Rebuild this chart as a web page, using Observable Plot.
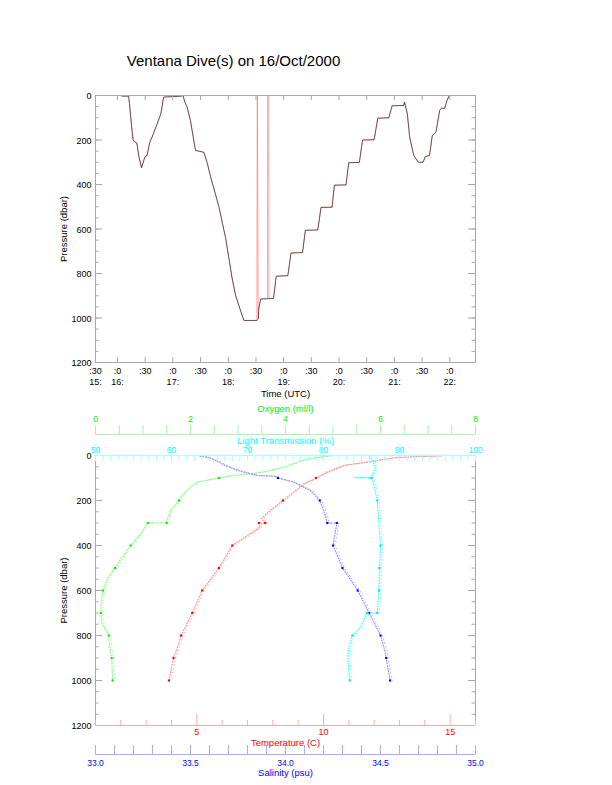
<!DOCTYPE html>
<html><head><meta charset="utf-8">
<script src="https://cdn.jsdelivr.net/npm/d3@7"></script>
<script src="https://cdn.jsdelivr.net/npm/@observablehq/plot@0.6"></script>
<style>
body{margin:0;background:#fff;}
#wrap{position:relative;width:612px;height:785px;font-family:"Liberation Sans",Arial,Helvetica,sans-serif;overflow:hidden;}
#top{position:absolute;left:0;top:0;}
#bot{position:absolute;left:0;top:400px;}
#title{position:absolute;left:0;top:52px;width:467px;text-align:center;font-size:15px;color:#000;}
svg{overflow:visible;}
</style></head><body>
<div id="wrap"><div id="top"></div><div id="bot"></div><div id="title">Ventana Dive(s) on 16/Oct/2000</div></div>
<script>
// ---------- Top panel data: dive pressure vs time ----------
const diveTime = ["16:05","16:12","16:13","16:15","16:17","16:21","16:23","16:26","16:28:30","16:29:30","16:32","16:35","16:37:30","16:43","16:47","16:50","17:09","17:11","17:13","17:15:30","17:19","17:24:30","17:33:30","17:37","17:41","17:46","17:50","17:55","17:57","18:00:30","18:04","18:08","18:13","18:17","18:31","18:32:30","18:33","18:35","18:49","18:52","19:04:30","19:08","19:20:30","19:23:30","19:37","19:40:30","19:52:30","19:55","20:07:30","20:10:30","20:22","20:25:30","20:38","20:42","20:54","20:57:30","21:10","21:11","21:14","21:16:30","21:21","21:26","21:31","21:33:30","21:38","21:41","21:45","21:49","21:51","21:54:30","21:57","21:59:30"];
const divePressure = [3,3,37,127,202,214,270,325,292,277,270,210,187,127,82,7,3,0,30,52,112,247,255,300,367,442,502,600,637,727,817,899,963,1011,1011,1004,959,915,912,812,810,708,706,606,604,503,502,403,402,302,301,200,199,102,100,46,45,30,82,187,270,300,300,274,270,180,165,67,57,57,22,0];
// spikes present in the red trace only
const spikeTime = ["18:31:25","18:31:35","18:42:30","18:42:40","18:43:50","18:44:00"];
const spikePressure = [0,0,913,0,0,913];
// axis
const timeStart = "15:36:11", timeEnd = "22:27:50";
const timeTickTimes = ["16:00","16:30","17:00","17:30","18:00","18:30","19:00","19:30","20:00","20:30","21:00","21:30","22:00"];
const timeLabelTop = [":30",":0",":30",":0",":30",":0",":30",":0",":30",":0",":30",":0",":30",":0"];
const timeLabelBottom = ["15:","16:","","17:","","18:","","19:","","20:","","21:","","22:"];
const pressureTicks = [0,200,400,600,800,1000,1200];
const pressureMinor = d3.range(0,1201,50);

// ---------- Bottom panel data: profiles vs pressure ----------
const oxyP = [3,10,25,50,75,93,100,118,150,185,200,244,290,300,300,348,400,452,500,547,600,650,700,750,800,822,900,950,1000];
const oxyV = [4.9,4.6,4.3,4.0,3.5,2.75,2.6,2.14,1.95,1.79,1.76,1.58,1.5,1.5,1.1,0.95,0.74,0.56,0.41,0.25,0.16,0.12,0.11,0.14,0.28,0.28,0.34,0.35,0.36];
const tempP = [2,5,10,20,25,44,74,100,126,185,200,244,281,300,300,318,400,500,600,700,800,859,900,1000];
const tempV = [14.6,13.6,12.8,12.2,12.0,10.8,10.15,9.7,9.22,8.57,8.4,7.9,7.55,7.7,7.45,7.5,6.4,5.87,5.21,4.82,4.38,4.22,4.08,3.9];
const salP = [3,10,30,44,67,89,92,100,118,155,200,267,300,300,400,500,600,700,800,859,900,1000];
const salV = [33.55,33.6,33.65,33.68,33.75,33.85,33.95,33.96,34.04,34.13,34.18,34.21,34.22,34.27,34.25,34.30,34.38,34.44,34.50,34.52,34.53,34.55];
const ltP = [5,22,52,74,98,98,100,126,200,304,400,500,600,700,700,763,800,859,907,1000];
const ltV = [86.0,86.4,86.84,86.6,86.2,84.0,86.3,86.6,87.07,87.3,87.5,87.37,87.3,87.07,85.7,84.87,83.8,83.3,83.2,83.46];

const oxyDomain = [0,8], oxyLabels = [0,2,4,6,8];
const ltDomain = [50,100], ltLabels = [50,60,70,80,90,100];
const tempDomain = [1,16], tempLabels = [5,10,15];
const salDomain = [33,35], salLabels = ["33.0","33.5","34.0","34.5","35.0"];

// ---------- helpers ----------
const hm = s => { const [h,m,sec=0] = s.split(":").map(Number); return h + m/60 + sec/3600; };
const gray = "#a8a8a8";
const font = "'Liberation Sans', Arial, Helvetica, sans-serif";

// ================= TOP PANEL =================
{
  const xDom = [hm(timeStart), hm(timeEnd)];
  const kx = (xDom[1]-xDom[0])/380, ky = 1200/267;
  const dive = diveTime.map((t,i)=>({t:hm(t), p:divePressure[i]}));
  const red = dive.concat(spikeTime.map((t,i)=>({t:hm(t), p:spikePressure[i]}))).sort((a,b)=>a.t-b.t);
  const ticks = timeTickTimes.map(hm);
  const labPos = [xDom[0], ...ticks];
  const labs = labPos.map((x,i)=>({x, a:timeLabelTop[i], b:timeLabelBottom[i]}));
  const chart = Plot.plot({
    width:612, height:400, marginLeft:95, marginRight:137, marginTop:95, marginBottom:38,
    style:{fontFamily:font, fontSize:"9px", background:"transparent", overflow:"visible"},
    x:{domain:xDom, axis:null}, y:{domain:[0,1200], reverse:true, axis:null},
    marks:[
      Plot.line(red, {x:"t", y:"p", stroke:"#ff5a5a", strokeWidth:0.9, strokeOpacity:0.6}),
      Plot.line(dive, {x:"t", y:"p", stroke:"#000", strokeWidth:0.55}),
      Plot.frame({stroke:gray}),
      Plot.ruleY(pressureMinor, {y:d=>d, x1:xDom[0], x2:xDom[0]+3.5*kx, stroke:gray}),
      Plot.ruleY(pressureTicks, {y:d=>d, x1:xDom[0], x2:xDom[0]+7*kx, stroke:gray}),
      Plot.ruleY(pressureMinor, {y:d=>d, x1:xDom[1]-3.5*kx, x2:xDom[1], stroke:gray}),
      Plot.ruleY(pressureTicks, {y:d=>d, x1:xDom[1]-7*kx, x2:xDom[1], stroke:gray}),
      Plot.ruleX(ticks, {x:d=>d, y1:1200, y2:1200-5*ky, stroke:gray}),
      Plot.ruleX(ticks, {x:d=>d, y1:0, y2:5*ky, stroke:gray}),
      Plot.text(pressureTicks, {x:xDom[0], y:d=>d, text:d=>String(d), textAnchor:"end", dx:-4, dy:1, fill:"#000", fontSize:9}),
      Plot.text(labs, {x:"x", y:1200, text:"a", dy:9, fill:"#000", fontSize:9}),
      Plot.text(labs, {x:"x", y:1200, text:"b", dy:20, fill:"#000", fontSize:9}),
      Plot.text(["Time (UTC)"], {x:(xDom[0]+xDom[1])/2, y:1200, text:d=>d, dy:31, fill:"#000", fontSize:9.5}),
      Plot.text(["Pressure (dbar)"], {x:xDom[0], y:600, text:d=>d, dx:-32, rotate:-90, fill:"#000", fontSize:9.5})
    ]
  });
  document.getElementById("top").appendChild(chart);
}

// ================= BOTTOM PANEL =================
{
  const xDom = tempDomain;
  const kx = (xDom[1]-xDom[0])/380, ky = 1200/270;
  const lin = (dom) => v => xDom[0] + (v - dom[0]) / (dom[1]-dom[0]) * (xDom[1]-xDom[0]);
  const fO = lin(oxyDomain), fL = lin(ltDomain), fT = v => v, fS = lin(salDomain);
  const prof = (P, V) => P.map((p,i)=>({p, v:V[i]}));
  const oxy = prof(oxyP, oxyV), tmp = prof(tempP, tempV), sal = prof(salP, salV), lt = prof(ltP, ltV);
  const stops = a => a.filter(d => d.p % 100 === 0 && d.p > 0);
  const cO = "#00ee00", cL = "#00ffff", cT = "#ff0000", cS = "#0000ff";
  const lO = "#a8f5a8", lL = "#a8ffff", lT = "#ffaaaa", lS = "#aaaaff";
  const profMarks = (data, f, pale, strong) => [
    Plot.line(data, {x:d=>f(d.v), y:"p", stroke:pale, strokeWidth:1.2, strokeDasharray:"0.8 1.8"}),
    Plot.line(data, {x:d=>f(d.v)+2*kx, y:"p", stroke:pale, strokeWidth:0.9, strokeDasharray:"0.8 3", strokeOpacity:0.8}),
    Plot.dot(stops(data), {x:d=>f(d.v), y:"p", r:1.2, symbol:"square", fill:strong, stroke:null})
  ];
  const oTicks = d3.range(0,8.01,0.5), lTicks = d3.range(50,100.01,1), tTicks = d3.range(1,16.01,1), sTicks = d3.range(33,35.001,0.1);
  const yO = -21*ky, yS = 1200+29*ky;
  const chart = Plot.plot({
    width:612, height:385, marginLeft:95, marginRight:137, marginTop:55, marginBottom:60,
    style:{fontFamily:font, fontSize:"9px", background:"transparent", overflow:"visible"},
    x:{domain:xDom, axis:null}, y:{domain:[0,1200], reverse:true, axis:null},
    marks:[
      ...profMarks(oxy, fO, "#80ff80", cO),
      ...profMarks(tmp, fT, "#ff9090", cT),
      ...profMarks(sal, fS, "#9090ff", cS),
      ...profMarks(lt, fL, "#40ffff", "#00e5e5"),
      // frame sides
      Plot.ruleX(xDom, {stroke:gray}),
      Plot.ruleY(pressureMinor, {y:d=>d, x1:xDom[0], x2:xDom[0]+3.5*kx, stroke:gray}),
      Plot.ruleY(pressureTicks, {y:d=>d, x1:xDom[0], x2:xDom[0]+7*kx, stroke:gray}),
      Plot.ruleY(pressureMinor, {y:d=>d, x1:xDom[1]-3.5*kx, x2:xDom[1], stroke:gray}),
      Plot.ruleY(pressureTicks, {y:d=>d, x1:xDom[1]-7*kx, x2:xDom[1], stroke:gray}),
      Plot.text(pressureTicks, {x:xDom[0], y:d=>d, text:d=>String(d), textAnchor:"end", dx:-4, dy:1, fill:"#000", fontSize:9}),
      Plot.text(["Pressure (dbar)"], {x:xDom[0], y:600, text:d=>d, dx:-32, rotate:-90, fill:"#000", fontSize:9.5}),
      // light transmission (top frame edge)
      Plot.ruleY([0], {stroke:lL}),
      Plot.ruleX(lTicks, {x:d=>fL(d), y1:0, y2:6*ky, stroke:lL}),
      Plot.text(ltLabels, {x:d=>fL(d), y:0, text:d=>String(d), dy:-5.5, fill:cL, fontSize:8.5}),
      Plot.text(["Light Transmission (%)"], {x:(xDom[0]+xDom[1])/2, y:0, text:d=>d, dy:-15, fill:cL, fontSize:9.5}),
      // oxygen
      Plot.ruleY([yO], {stroke:lO}),
      Plot.ruleX(oTicks, {x:d=>fO(d), y1:yO, y2:yO-9*ky, stroke:lO}),
      Plot.text(oxyLabels, {x:d=>fO(d), y:0, text:d=>String(d), dy:-36, fill:cO, fontSize:8.5}),
      Plot.text(["Oxygen (ml/l)"], {x:(xDom[0]+xDom[1])/2, y:0, text:d=>d, dy:-46.5, fill:cO, fontSize:9.5}),
      // temperature (bottom frame edge)
      Plot.ruleY([1200], {stroke:lT}),
      Plot.ruleX(tTicks, {x:d=>fT(d), y1:1200, y2:d=>1200-(d%5===0?11:5)*ky, stroke:lT}),
      Plot.text(tempLabels, {x:d=>fT(d), y:1200, text:d=>String(d), dy:7, fill:cT, fontSize:9}),
      Plot.text(["Temperature (C)"], {x:(xDom[0]+xDom[1])/2, y:1200, text:d=>d, dy:17.5, fill:cT, fontSize:9.5}),
      // salinity
      Plot.ruleY([yS], {stroke:lS}),
      Plot.ruleX(sTicks, {x:d=>fS(d), y1:yS, y2:yS-9*ky, stroke:lS}),
      Plot.text(salLabels, {x:d=>fS(+d), y:1200, text:d=>d, dy:37.5, fill:cS, fontSize:8.5}),
      Plot.text(["Salinity (psu)"], {x:(xDom[0]+xDom[1])/2, y:1200, text:d=>d, dy:47.5, fill:cS, fontSize:9.5})
    ]
  });
  document.getElementById("bot").appendChild(chart);
}
</script>
</body></html>
